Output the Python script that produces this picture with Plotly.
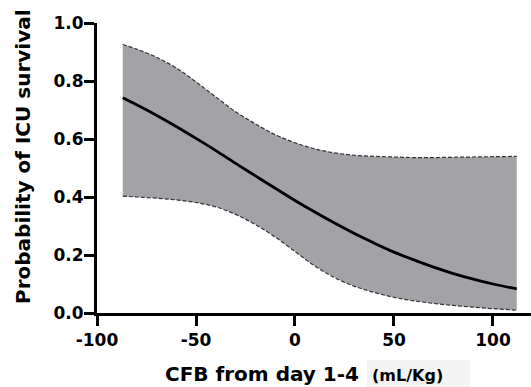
import plotly.graph_objects as go

# Data
cfb = [-87, -80, -70, -60, -50, -40, -30, -20, -10, 0, 10, 20, 30, 40, 50, 60, 70, 80, 90, 100, 112]
prob = [0.742, 0.718, 0.682, 0.643, 0.602, 0.560, 0.516, 0.473, 0.430, 0.388, 0.348,
        0.310, 0.274, 0.241, 0.210, 0.183, 0.158, 0.136, 0.117, 0.100, 0.083]
upper = [0.926, 0.910, 0.882, 0.845, 0.797, 0.745, 0.694, 0.652, 0.615, 0.587, 0.566,
         0.552, 0.544, 0.540, 0.538, 0.536, 0.536, 0.537, 0.538, 0.539, 0.540]
lower = [0.403, 0.400, 0.396, 0.390, 0.381, 0.366, 0.340, 0.305, 0.262, 0.212, 0.162,
         0.122, 0.092, 0.071, 0.054, 0.042, 0.033, 0.026, 0.020, 0.015, 0.010]
x_ticks = [-100, -50, 0, 50, 100]
x_tick_labels = ["-100", "-50", "0", "50", "100"]
y_ticks = [0.0, 0.2, 0.4, 0.6, 0.8, 1.0]
y_tick_labels = ["0.0", "0.2", "0.4", "0.6", "0.8", "1.0"]

FONT = "DejaVu Sans"
BAND = "#a3a2a7"
DASH = "#333333"

fig = go.Figure()
fig.add_trace(go.Scatter(x=cfb, y=lower, mode="lines",
                         line=dict(color=DASH, width=1.2, dash="4px,2px", shape="spline"),
                         showlegend=False, hoverinfo="skip"))
fig.add_trace(go.Scatter(x=cfb, y=upper, mode="lines", fill="tonexty", fillcolor=BAND,
                         line=dict(color=DASH, width=1.2, dash="4px,2px", shape="spline"),
                         showlegend=False, hoverinfo="skip"))
fig.add_trace(go.Scatter(x=cfb, y=prob, mode="lines",
                         line=dict(color="black", width=2.8, shape="spline"),
                         showlegend=False))

W, H = 531, 387
L, R, T, B = 97, 0, 23, 74
pw, ph = W - L - R, H - T - B

def px_x(p):
    return (p - L) / pw

def px_y(p):
    return (H - B - p) / ph

fig.update_layout(
    width=W, height=H,
    margin=dict(l=L, r=R, t=T, b=B, pad=0, autoexpand=False),
    paper_bgcolor="white", plot_bgcolor="white",
    font=dict(family=FONT, color="black"),
    xaxis=dict(range=[-100, 119.2], tickvals=x_ticks, ticktext=x_tick_labels, automargin=False,
               showgrid=False, zeroline=False, showline=True, linecolor="black", linewidth=3,
               ticks="outside", ticklen=10, tickwidth=2.5, tickcolor="black",
               tickfont=dict(family=FONT, size=17, weight="bold", color="black")),
    yaxis=dict(range=[0, 1], tickvals=y_ticks, ticktext=y_tick_labels, automargin=False,
               showgrid=False, zeroline=False, showline=True, linecolor="black", linewidth=3,
               ticks="outside", ticklen=10, tickwidth=2.5, tickcolor="black",
               ticklabelstandoff=-3,
               tickfont=dict(family=FONT, size=17, weight="bold", color="black")),
    shapes=[dict(type="rect", xref="paper", yref="paper", layer="below",
                 x0=px_x(367), x1=px_x(470), y0=px_y(392), y1=px_y(360),
                 fillcolor="#f3f3f3", line=dict(width=0))],
    annotations=[
        dict(text="Probability of ICU survival", textangle=-90, xref="paper", yref="paper",
             x=px_x(23), y=px_y(157), xanchor="center", yanchor="middle", showarrow=False,
             font=dict(family=FONT, size=20, weight="bold", color="black")),
        dict(text="CFB from day 1-4", xref="paper", yref="paper",
             x=px_x(163), y=px_y(374), xanchor="left", yanchor="middle", showarrow=False,
             font=dict(family=FONT, size=20, weight="bold", color="black")),
        dict(text="(mL/Kg)", xref="paper", yref="paper",
             x=px_x(370), y=px_y(375), xanchor="left", yanchor="middle", showarrow=False,
             font=dict(family=FONT, size=16, weight="bold", color="black")),
    ],
)

fig.write_html("out.html", config={"displayModeBar": False},
               post_script="document.body.style.margin='0';document.body.style.overflow='hidden';")
